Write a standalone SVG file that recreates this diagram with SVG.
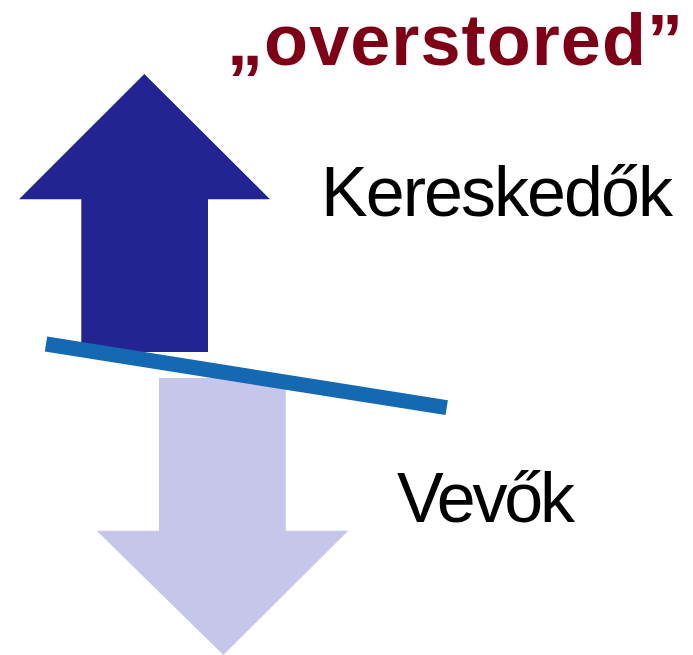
<svg xmlns="http://www.w3.org/2000/svg" width="693" height="655" viewBox="0 0 693 655">
  <style>
    .title { font-family: "Liberation Sans", Arial, sans-serif; font-weight: bold; font-size: 72px; fill: #7E0016; }
    .label { font-family: "Liberation Sans", Arial, sans-serif; font-size: 70px; fill: #000000; }
    .up { fill: #232392; }
    .down { fill: #C6C6EA; }
    .beam { stroke: #1569B3; stroke-width: 15; fill: none; }
  </style>
  <rect width="693" height="655" fill="#FFFFFF"/>

  <g id="title">
    <text class="title" x="227" y="65" textLength="456">„overstored”</text>
  </g>

  <g id="arrow-up">
    <polygon class="up" points="144.3,74 270,199.3 208,199.3 208,352 81.3,352 81.3,199.3 19,199.3"/>
  </g>

  <g id="arrow-down">
    <polygon class="down" points="159,378 285.7,378 285.7,530.7 348.3,530.7 223.3,655 96.7,530.7 159,530.7"/>
  </g>

  <g id="connectors">
    <line class="beam" x1="46" y1="344" x2="446.7" y2="407.7"/>
  </g>

  <g id="label-kereskedok">
    <text class="label" x="321" y="216" font-size="72" textLength="352">Kereskedők</text>
  </g>

  <g id="label-vevok">
    <text class="label" x="397" y="521.7" font-size="69" textLength="178">Vevők</text>
  </g>
</svg>
